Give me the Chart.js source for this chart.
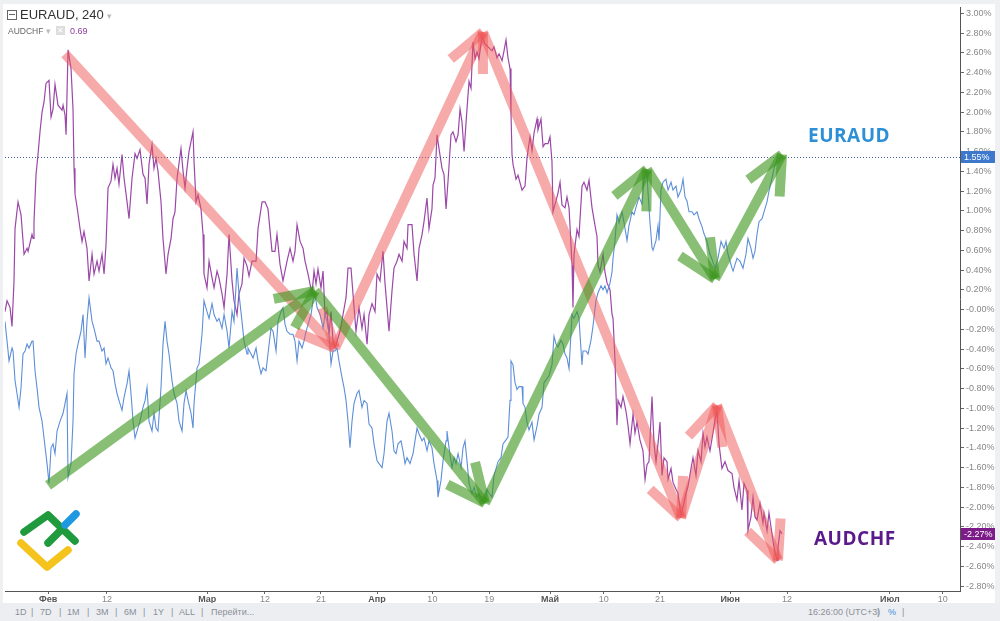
<!DOCTYPE html>
<html><head><meta charset="utf-8">
<script src="https://cdn.jsdelivr.net/npm/chart.js@4.4.0/dist/chart.umd.min.js"></script>
<style>
html,body{margin:0;padding:0;background:#fff;width:1000px;height:621px;overflow:hidden;font-family:"Liberation Sans",Arial,sans-serif;}
#wrap{position:absolute;left:0;top:0;width:1000px;height:603px;}
#topstrip{position:absolute;left:0;top:0;width:1000px;height:4px;background:#eef0f2;}
#leftstrip{position:absolute;left:0;top:0;width:3px;height:603px;background:#eef0f2;}
#rightstrip{position:absolute;left:995px;top:0;width:5px;height:603px;background:#eef0f2;}
#toolbar{position:absolute;left:0;top:603px;width:1000px;height:18px;background:#eceef1;color:#8a8f98;font-size:9px;}
#toolbar span{position:absolute;top:4px;white-space:nowrap;}
.hdr{position:absolute;white-space:nowrap;}
.note{position:absolute;font-family:"Open Sans",sans-serif;font-weight:bold;font-size:19px;letter-spacing:0.5px;}
</style></head>
<body>
<div id="wrap"><canvas id="c" width="1000" height="603"></canvas></div>
<div id="topstrip"></div><div id="leftstrip"></div><div id="rightstrip"></div>
<div class="hdr" style="left:7px;top:10px;width:8px;height:8px;border:1px solid #666;"></div>
<div class="hdr" style="left:9px;top:14px;width:6px;height:1px;background:#666;"></div>
<div class="hdr" style="left:20px;top:7px;font-size:13px;color:#333;">EURAUD, 240 <span style="color:#bbb;font-size:9px;">▾</span></div>
<div class="hdr" style="left:8px;top:26px;font-size:8.5px;color:#666;">AUDCHF <span style="color:#bbb;">▾</span></div>
<div class="hdr" style="left:56px;top:26px;width:9px;height:9px;background:#ddd;color:#fff;font-size:8px;line-height:9px;text-align:center;">✕</div>
<div class="hdr" style="left:70px;top:26px;font-size:9px;color:#8e3b9e;">0.69</div>
<div class="note" style="left:808px;top:122px;color:#2d8fd5;">EURAUD</div>
<div class="note" style="left:814px;top:525px;color:#5a1a8c;">AUDCHF</div>
<div id="toolbar">
<span style="left:15px">1D</span><span style="left:31px">|</span>
<span style="left:40px">7D</span><span style="left:59px">|</span>
<span style="left:67px">1M</span><span style="left:87px">|</span>
<span style="left:96px">3M</span><span style="left:115px">|</span>
<span style="left:124px">6M</span><span style="left:143px">|</span>
<span style="left:153px">1Y</span><span style="left:171px">|</span>
<span style="left:179px">ALL</span><span style="left:201px">|</span>
<span style="left:211px">Перейти...</span>
<span style="left:808px">16:26:00 (UTC+3)</span><span style="left:877px">|</span>
<span style="left:888px;color:#3a8fd8">%</span><span style="left:902px">|</span>
</div>
<script>
// ---- data (x = trading-day index from 1 Feb, y = % change) ----
const audChf = [[-5.70,-0.02],[-5.44,0.09],[-5.06,0.02],[-4.81,-0.17],[-4.56,0.29],[-4.43,0.82],[-4.05,1.09],[-3.67,0.96],[-3.29,0.56],[-2.91,0.62],[-2.78,0.59],[-2.28,0.76],[-2.15,0.72],[-2.03,0.89],[-1.77,1.37],[-1.52,1.57],[-1.27,1.80],[-1.01,2.00],[-0.76,2.10],[-0.51,2.29],[-0.13,2.32],[0.13,1.95],[0.38,2.03],[0.63,2.28],[1.01,2.07],[1.52,2.02],[1.65,2.07],[1.90,1.97],[2.03,1.77],[2.28,2.63],[2.66,2.44],[2.91,2.03],[3.04,1.43],[3.16,1.17],[3.42,1.04],[3.80,0.82],[4.05,0.69],[4.30,0.79],[4.68,0.62],[4.94,0.29],[5.32,0.56],[5.57,0.36],[5.95,0.49],[6.20,0.39],[6.58,0.56],[6.84,0.36],[7.09,0.66],[7.34,1.23],[7.72,1.30],[7.97,1.47],[8.23,1.33],[8.48,1.43],[8.73,1.27],[9.11,1.57],[9.37,1.33],[9.75,1.09],[10.00,0.92],[10.38,1.33],[10.76,1.58],[11.01,1.53],[11.39,1.62],[11.77,1.37],[12.03,1.33],[12.28,1.07],[12.53,1.47],[12.91,1.67],[13.16,1.43],[13.42,1.53],[13.67,1.40],[14.05,1.09],[14.30,0.72],[14.68,0.36],[14.94,0.56],[15.32,0.72],[15.57,0.92],[15.82,0.99],[16.08,1.33],[16.58,1.63],[16.84,1.40],[17.09,1.23],[17.34,1.43],[17.59,1.60],[18.10,1.80],[18.23,1.50],[18.48,1.09],[18.73,1.16],[19.11,1.02],[19.37,0.76],[19.49,0.36],[19.87,0.22],[20.13,0.49],[20.51,0.32],[20.76,0.22],[21.14,0.39],[21.39,0.32],[21.77,0.16],[22.03,0.02],[22.41,0.36],[22.66,0.76],[23.04,0.29],[23.29,0.09],[23.67,-0.05],[23.92,0.16],[24.30,0.26],[24.56,0.52],[24.94,0.44],[25.19,0.34],[25.57,0.49],[26.08,0.49],[26.33,0.82],[26.84,1.09],[27.22,1.09],[27.59,1.02],[28.10,0.59],[28.48,0.59],[28.73,0.76],[29.11,0.46],[29.49,0.29],[30.00,0.49],[30.38,0.62],[30.76,0.49],[31.01,0.59],[31.27,0.86],[31.65,0.69],[32.03,0.62],[32.28,0.49],[32.66,0.36],[33.16,0.16],[33.42,0.39],[33.67,0.26],[33.92,0.41],[34.30,0.22],[34.56,0.39],[34.81,-0.05],[35.06,-0.02],[35.32,-0.25],[35.57,-0.02],[35.82,-0.32],[36.08,-0.39],[36.33,-0.32],[36.71,-0.22],[37.09,-0.05],[37.47,0.12],[37.72,0.42],[38.10,0.42],[38.35,0.16],[38.73,-0.22],[39.11,0.02],[39.49,-0.19],[39.75,-0.05],[40.13,-0.35],[40.38,-0.05],[40.76,0.06],[41.14,-0.02],[41.39,0.36],[41.77,0.29],[42.15,0.59],[42.41,0.26],[42.66,0.02],[42.91,-0.22],[43.29,0.19],[43.54,0.42],[43.92,0.49],[44.18,0.56],[44.56,0.49],[44.81,0.69],[45.19,0.62],[45.32,0.86],[45.82,0.86],[46.08,0.56],[46.46,0.29],[46.71,0.62],[47.09,0.76],[47.34,0.89],[47.72,1.13],[47.97,0.82],[48.35,1.02],[48.48,1.26],[48.73,1.33],[48.99,1.77],[49.24,1.63],[49.62,1.43],[49.87,1.37],[50.13,1.02],[50.38,1.30],[50.76,1.77],[51.01,1.80],[51.39,1.70],[51.65,1.77],[51.90,2.03],[52.15,1.90],[52.41,1.60],[52.78,2.03],[53.04,2.31],[53.29,2.24],[53.54,2.71],[53.80,2.54],[54.05,2.61],[54.30,2.54],[54.68,2.77],[55.06,2.69],[55.44,2.66],[55.95,2.62],[56.20,2.66],[56.58,2.55],[56.84,2.59],[57.22,2.52],[57.47,2.62],[57.72,2.73],[57.97,2.55],[58.23,2.44],[58.35,2.00],[58.48,1.57],[58.61,1.47],[58.99,1.32],[59.24,1.36],[59.75,1.21],[60.13,1.25],[60.38,1.54],[60.76,1.75],[61.01,1.61],[61.27,1.79],[61.65,1.93],[61.77,1.82],[62.15,1.93],[62.41,1.65],[62.66,1.68],[63.04,1.68],[63.29,1.75],[63.54,1.50],[63.67,0.99],[64.05,1.10],[64.30,1.18],[64.56,1.29],[64.81,1.06],[65.19,1.03],[65.44,1.14],[65.70,1.03],[66.08,0.45],[66.20,0.02],[66.33,0.56],[66.71,0.81],[66.96,0.74],[67.34,1.25],[67.59,1.29],[67.97,1.21],[68.23,1.31],[68.61,1.03],[68.99,0.85],[69.24,0.74],[69.37,0.45],[69.62,0.38],[70.00,0.56],[70.25,0.38],[70.51,0.27],[70.89,0.20],[71.14,-0.05],[71.27,-0.09],[71.52,-0.52],[71.77,-1.17],[71.90,-0.92],[72.28,-0.99],[72.53,-0.88],[72.91,-1.03],[73.16,-1.17],[73.42,-1.36],[73.80,-1.06],[74.05,-1.25],[74.30,-1.14],[74.68,-1.32],[75.06,-1.43],[75.32,-1.72],[75.57,-1.57],[75.82,-1.54],[76.20,-0.88],[76.46,-1.36],[76.71,-1.54],[76.96,-1.36],[77.22,-1.14],[77.47,-1.68],[77.72,-1.50],[78.10,-1.54],[78.23,-1.72],[78.61,-1.61],[78.86,-1.75],[79.24,-1.82],[79.49,-1.86],[79.87,-2.08],[80.13,-2.00],[80.51,-1.86],[80.76,-1.79],[81.14,-1.61],[81.39,-1.50],[81.77,-1.68],[82.03,-1.43],[82.41,-1.54],[82.66,-1.25],[82.91,-1.39],[83.16,-1.29],[83.54,-1.43],[83.92,-1.25],[84.18,-1.11],[84.43,-1.02],[84.68,-1.36],[85.06,-1.61],[85.44,-1.54],[85.82,-1.63],[86.33,-1.66],[86.58,-1.80],[86.96,-1.93],[87.22,-1.73],[87.59,-2.03],[87.85,-1.76],[88.23,-1.83],[88.35,-2.24],[88.73,-2.10],[88.99,-1.90],[89.24,-2.10],[89.49,-2.13],[89.87,-1.96],[90.25,-2.16],[90.38,-2.06],[90.76,-2.24],[91.01,-2.06],[91.39,-2.27],[91.65,-2.41],[92.03,-2.54],[92.15,-2.41],[92.41,-2.24],[92.66,-2.27]];

const eurAud = [[-5.70,-0.12],[-5.44,-0.32],[-5.19,-0.52],[-4.81,-0.39],[-4.68,-0.42],[-4.43,-0.72],[-4.18,-0.85],[-3.92,-0.99],[-3.67,-0.79],[-3.42,-0.45],[-3.16,-0.42],[-2.91,-0.35],[-2.66,-0.39],[-2.28,-0.32],[-2.15,-0.32],[-1.90,-0.62],[-1.65,-0.79],[-1.39,-0.99],[-1.01,-1.13],[-0.76,-1.30],[-0.38,-1.56],[-0.13,-1.76],[0.13,-1.40],[0.38,-1.36],[0.63,-1.46],[0.89,-1.23],[1.27,-1.13],[1.65,-1.05],[1.90,-0.95],[2.15,-0.85],[2.28,-1.70],[2.66,-1.56],[2.91,-1.13],[3.04,-0.65],[3.29,-0.45],[3.54,-0.35],[3.92,-0.22],[4.18,-0.05],[4.43,-0.49],[4.68,-0.12],[4.94,0.12],[5.32,-0.12],[5.57,-0.19],[5.95,-0.32],[6.20,-0.32],[6.58,-0.42],[6.84,-0.39],[7.09,-0.55],[7.34,-0.49],[7.72,-0.59],[7.97,-0.62],[8.23,-0.75],[8.48,-0.85],[8.73,-0.92],[9.11,-1.02],[9.37,-0.89],[9.75,-0.75],[10.00,-0.62],[10.25,-0.85],[10.51,-1.13],[10.76,-1.30],[11.01,-1.23],[11.39,-1.13],[11.77,-0.99],[12.03,-0.92],[12.28,-0.79],[12.53,-1.13],[12.91,-1.23],[13.16,-1.05],[13.42,-1.20],[13.67,-1.23],[14.05,-0.79],[14.30,-0.35],[14.56,-0.12],[14.81,-0.32],[15.06,-0.45],[15.44,-0.72],[15.70,-0.85],[16.08,-0.95],[16.33,-1.13],[16.71,-1.23],[16.96,-0.95],[17.22,-0.82],[17.47,-0.92],[17.85,-1.05],[18.10,-1.20],[18.23,-0.95],[18.61,-0.59],[18.86,-0.55],[19.24,-0.25],[19.49,0.09],[19.87,-0.02],[20.13,-0.09],[20.51,0.06],[20.76,-0.05],[21.14,-0.12],[21.39,-0.09],[21.77,-0.19],[22.03,-0.05],[22.41,-0.22],[22.66,-0.39],[23.04,-0.02],[23.29,-0.12],[23.67,0.42],[23.92,0.16],[24.30,-0.12],[24.56,-0.32],[24.94,-0.45],[25.06,-0.39],[25.44,-0.45],[25.70,-0.49],[26.08,-0.39],[26.33,-0.52],[26.71,-0.65],[26.96,-0.59],[27.34,-0.62],[27.59,-0.45],[27.97,-0.19],[28.23,-0.22],[28.61,-0.42],[28.86,-0.12],[29.24,-0.02],[29.49,0.02],[29.75,-0.15],[30.00,-0.22],[30.38,-0.25],[30.76,-0.25],[31.01,-0.32],[31.27,-0.52],[31.52,-0.32],[31.90,-0.39],[32.15,-0.32],[32.41,-0.22],[32.66,-0.15],[33.04,-0.05],[33.29,0.09],[33.54,0.16],[33.80,0.02],[34.18,-0.05],[34.56,-0.19],[34.81,-0.05],[35.06,-0.12],[35.32,-0.25],[35.57,-0.55],[35.82,-0.42],[36.08,-0.42],[36.33,-0.39],[36.58,-0.52],[36.96,-0.69],[37.22,-0.79],[37.47,-0.92],[37.72,-1.13],[37.97,-1.40],[38.23,-1.13],[38.48,-0.95],[38.86,-0.85],[39.11,-0.82],[39.49,-0.99],[39.75,-0.92],[40.13,-0.95],[40.38,-1.16],[40.76,-1.20],[41.01,-1.36],[41.39,-1.53],[41.65,-1.56],[42.03,-1.60],[42.28,-1.46],[42.66,-1.13],[42.91,-1.05],[43.29,-1.23],[43.54,-1.43],[43.80,-1.46],[44.05,-1.36],[44.43,-1.33],[44.68,-1.43],[44.94,-1.56],[45.19,-1.50],[45.57,-1.56],[45.95,-1.46],[46.20,-1.33],[46.46,-1.20],[46.71,-1.26],[47.09,-1.33],[47.34,-1.30],[47.72,-1.43],[47.97,-1.33],[48.35,-1.40],[48.61,-1.56],[48.99,-1.73],[49.11,-1.90],[49.49,-1.73],[49.75,-1.53],[50.13,-1.33],[50.25,-1.23],[50.51,-1.40],[50.89,-1.60],[51.14,-1.50],[51.39,-1.56],[51.65,-1.46],[52.03,-1.60],[52.28,-1.40],[52.53,-1.33],[52.78,-1.53],[53.04,-1.76],[53.42,-1.86],[53.67,-1.80],[54.05,-1.90],[54.30,-1.86],[54.68,-1.93],[55.06,-1.96],[55.32,-1.82],[55.57,-1.86],[55.95,-1.90],[56.20,-1.68],[56.46,-1.61],[56.71,-1.54],[57.09,-1.50],[57.34,-1.36],[57.72,-1.32],[57.97,-1.29],[58.23,-0.92],[58.35,-0.52],[58.61,-0.56],[58.86,-0.74],[59.11,-0.81],[59.37,-0.78],[59.75,-0.78],[59.87,-0.95],[60.13,-0.99],[60.38,-1.14],[60.63,-1.22],[61.01,-1.14],[61.27,-1.32],[61.65,-1.18],[61.90,-1.06],[62.28,-0.99],[62.53,-0.74],[62.91,-0.70],[63.16,-0.67],[63.54,-0.56],[63.80,-0.27],[64.05,-0.35],[64.30,-0.38],[64.68,-0.31],[64.94,-0.35],[65.19,-0.45],[65.44,-0.49],[65.70,-0.60],[66.08,-0.05],[66.33,-0.09],[66.71,-0.02],[66.96,-0.09],[67.34,-0.56],[67.47,-0.42],[67.85,-0.42],[68.10,-0.45],[68.48,-0.31],[68.73,-0.17],[69.11,0.09],[69.37,0.17],[69.75,0.24],[70.00,0.20],[70.25,0.24],[70.51,0.17],[70.89,0.27],[71.14,0.38],[71.27,0.52],[71.52,0.70],[71.77,0.96],[72.03,0.88],[72.41,0.99],[72.66,0.88],[73.04,0.70],[73.29,0.85],[73.67,0.99],[73.92,0.96],[74.30,1.07],[74.56,1.14],[74.94,1.07],[75.19,1.32],[75.57,1.39],[75.70,1.18],[75.95,0.88],[76.20,0.63],[76.33,0.60],[76.71,0.70],[76.96,0.85],[77.09,0.70],[77.34,1.21],[77.59,1.29],[77.97,1.32],[78.23,1.21],[78.61,1.29],[78.86,1.21],[79.24,1.25],[79.49,1.14],[79.87,1.21],[80.13,1.32],[80.38,1.14],[80.63,1.10],[80.89,0.99],[81.27,0.99],[81.52,0.96],[81.90,0.99],[82.15,0.92],[82.53,0.84],[82.78,0.77],[83.16,0.69],[83.54,0.56],[83.80,0.51],[84.18,0.42],[84.56,0.52],[84.94,0.69],[85.32,0.62],[85.57,0.69],[85.82,0.56],[86.33,0.42],[86.46,0.39],[86.96,0.52],[87.34,0.49],[87.72,0.42],[88.10,0.56],[88.35,0.72],[88.73,0.62],[88.99,0.52],[89.24,0.59],[89.49,0.76],[89.75,0.89],[90.13,0.92],[90.38,0.99],[90.76,1.09],[91.01,1.20],[91.39,1.33],[91.65,1.43],[92.03,1.52],[92.28,1.53],[92.66,1.55]];

const xTickPos    = [-0.25, 7.2, 19.9, 27.2, 34.3, 41.4, 48.4, 55.6, 63.3, 70.1, 77.2, 86.1, 93.3, 106.3, 113.0];
const xTickLabels = ['Фев','12','Мар','12','21','Апр','10','19','Май','10','21','Июн','12','Июл','10'];
const monthLabels = ['Фев','Мар','Апр','Май','Июн','Июл'];
const yTickVals   = [3.0,2.8,2.6,2.4,2.2,2.0,1.8,1.6,1.4,1.2,1.0,0.8,0.6,0.4,0.2,0.0,-0.2,-0.4,-0.6,-0.8,-1.0,-1.2,-1.4,-1.6,-1.8,-2.0,-2.2,-2.4,-2.6,-2.8];
const yTickLabels = ['3.00%','2.80%','2.60%','2.40%','2.20%','2.00%','1.80%','1.60%','1.40%','1.20%','1.00%','0.80%','0.60%','0.40%','0.20%','-0.00%','-0.20%','-0.40%','-0.60%','-0.80%','-1.00%','-1.20%','-1.40%','-1.60%','-1.80%','-2.00%','-2.20%','-2.40%','-2.60%','-2.80%'];

// trend arrows drawn on the chart: [fromDay, fromPct, toDay, toPct]
const redArrows   = [[1.90,2.59,36.08,-0.39],[36.08,-0.39,54.81,2.81],[54.81,2.81,79.87,-2.11],[79.87,-2.11,84.43,-0.97],[84.43,-0.97,92.15,-2.54]];
const greenArrows = [[-0.25,-1.78,33.54,0.19],[33.54,0.19,55.06,-1.96],[55.06,-1.96,75.57,1.42],[75.57,1.42,84.18,0.31],[84.18,0.31,92.66,1.57]];

const lastEur = eurAud[eurAud.length-1][1];
const lastChf = audChf[audChf.length-1][1];

const overlay = {
  id: 'overlay',
  afterDatasetsDraw(chart) {
    const {ctx, chartArea: a, scales: {x, y}} = chart;
    ctx.save();
    const py = Math.round(y.getPixelForValue(lastEur)) + 0.5;
    ctx.strokeStyle = '#44619b'; ctx.lineWidth = 1; ctx.setLineDash([1, 2]);
    ctx.beginPath(); ctx.moveTo(a.left, py); ctx.lineTo(a.right, py); ctx.stroke();
    ctx.setLineDash([]);
    const drawArrow = (ar, color) => {
      const x0 = x.getPixelForValue(ar[0]), y0 = y.getPixelForValue(ar[1]);
      const x1 = x.getPixelForValue(ar[2]), y1 = y.getPixelForValue(ar[3]);
      const th = Math.atan2(y0 - y1, x0 - x1);
      const L = 42, sp = 25 * Math.PI / 180;
      ctx.strokeStyle = color; ctx.lineWidth = 10; ctx.lineCap = 'butt';
      ctx.beginPath(); ctx.moveTo(x0, y0); ctx.lineTo(x1, y1); ctx.stroke();
      ctx.beginPath();
      ctx.moveTo(x1 + L * Math.cos(th + sp), y1 + L * Math.sin(th + sp)); ctx.lineTo(x1, y1);
      ctx.stroke();
      ctx.beginPath();
      ctx.moveTo(x1 + L * Math.cos(th - sp), y1 + L * Math.sin(th - sp)); ctx.lineTo(x1, y1);
      ctx.stroke();
    };
    redArrows.forEach(ar => drawArrow(ar, 'rgba(240,85,85,0.5)'));
    greenArrows.forEach(ar => drawArrow(ar, 'rgba(63,152,32,0.62)'));
    ctx.restore();
  },
  afterDraw(chart) {
    const {ctx, scales: {y}} = chart;
    ctx.save();
    const box = (val, txt, bg) => {
      const py = Math.round(y.getPixelForValue(val));
      ctx.fillStyle = bg; ctx.fillRect(961, py - 6, 34, 12);
      ctx.fillStyle = '#fff'; ctx.font = '9px "Liberation Sans", Arial, sans-serif';
      ctx.textAlign = 'left'; ctx.textBaseline = 'middle';
      ctx.fillText(txt, 964, py + 0.5);
    };
    box(lastEur, lastEur.toFixed(2) + '%', '#3d78cc');
    box(lastChf, lastChf.toFixed(2) + '%', '#7b1c88');
    ctx.lineCap = 'round'; ctx.lineJoin = 'round'; ctx.lineWidth = 7.5;
    ctx.strokeStyle = '#f4c31c';
    ctx.beginPath(); ctx.moveTo(21, 543); ctx.lineTo(47, 567); ctx.lineTo(68, 550); ctx.stroke();
    ctx.strokeStyle = '#1f9a3c';
    ctx.beginPath(); ctx.moveTo(24, 532); ctx.lineTo(48, 515); ctx.lineTo(75, 541); ctx.stroke();
    ctx.beginPath(); ctx.moveTo(48, 543); ctx.lineTo(61, 530); ctx.stroke();
    ctx.strokeStyle = '#1e98e0';
    ctx.beginPath(); ctx.moveTo(65, 525); ctx.lineTo(76, 514); ctx.stroke();
    ctx.restore();
  }
};

new Chart(document.getElementById('c'), {
  type: 'line',
  data: {
    datasets: [
      { label: 'EURAUD', data: eurAud.map(p => ({x: p[0], y: p[1]})), borderColor: '#5d8fd8', borderWidth: 1.1, pointRadius: 0, tension: 0 },
      { label: 'AUDCHF', data: audChf.map(p => ({x: p[0], y: p[1]})), borderColor: '#9b48a8', borderWidth: 1.2, pointRadius: 0, tension: 0 }
    ]
  },
  options: {
    responsive: false, animation: false,
    layout: { padding: { left: 5, top: 5, right: 0, bottom: 0 } },
    plugins: { legend: { display: false }, tooltip: { enabled: false } },
    scales: {
      x: {
        type: 'linear', min: -5.7, max: 115.19,
        afterBuildTicks: s => { s.ticks = xTickPos.map(v => ({ value: v })); },
        afterFit: s => { s.height = 12; },
        grid: { display: true, drawOnChartArea: false, drawTicks: true, tickLength: 3, color: '#666', tickColor: '#666' },
        border: { display: true, color: '#555', width: 1 },
        ticks: {
          autoSkip: false, maxRotation: 0, padding: 0,
          callback: (v, i) => xTickLabels[i],
          color: (c) => monthLabels.includes(xTickLabels[c.index]) ? '#555' : '#888',
          font: (c) => ({ family: '"Liberation Sans", Arial, sans-serif', size: 9, weight: monthLabels.includes(xTickLabels[c.index]) ? 'bold' : 'normal' })
        }
      },
      y: {
        type: 'linear', position: 'right', min: -2.85, max: 3.06,
        afterBuildTicks: s => { s.ticks = yTickVals.map(v => ({ value: v })); },
        afterFit: s => { s.width = 40; },
        grid: { display: true, drawOnChartArea: false, drawTicks: true, tickLength: 4, color: '#666', tickColor: '#666' },
        border: { display: true, color: '#555', width: 1 },
        ticks: {
          padding: 2, color: '#888',
          font: { family: '"Liberation Sans", Arial, sans-serif', size: 9 },
          callback: (v, i) => yTickLabels[i]
        }
      }
    }
  },
  plugins: [overlay]
});
</script>
</body></html>
